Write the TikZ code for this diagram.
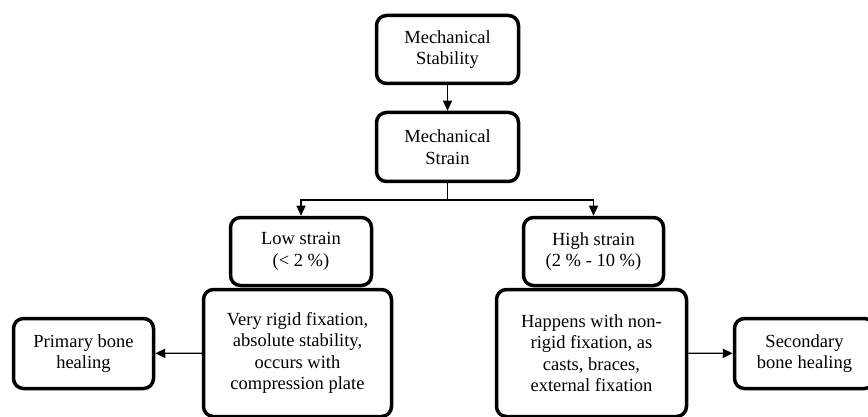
\documentclass[tikz,border=0pt]{standalone}
\usepackage{fontspec}
\setmainfont{Liberation Serif}
\usetikzlibrary{arrows.meta}

\begin{document}
\begin{tikzpicture}[>={Triangle[length=10pt,width=9pt]},x=1pt,y=-1pt,line width=1.2pt,
                    main node/.style={rectangle,draw,line width=3.5pt,rounded corners=10pt,
                      align=center,inner sep=0pt,font=\fontsize{18.5}{21.5}\selectfont}]
  \clip (0,0) rectangle (868,417);

  \node[main node,minimum width=142pt,minimum height=68pt] (stability) at (447.5,49.5) {Mechanical\\Stability};
  \node[main node,minimum width=142pt,minimum height=69pt] (strain) at (447.5,147) {Mechanical\\Strain};
  \node[main node,minimum width=141pt,minimum height=68pt] (low) at (301,251.5) {Low strain\\(< 2 \%)};
  \node[main node,minimum width=140pt,minimum height=68pt] (high) at (593.5,251.5) {High strain\\(2 \% - 10 \%)};
  \node[main node,minimum width=188pt,minimum height=127pt] (lowtext) at (297.5,353) {Very rigid fixation,\\absolute stability,\\occurs with\\compression plate};
  \node[main node,minimum width=190pt,minimum height=127pt] (hightext) at (591.5,353) {Happens with non-\\rigid fixation, as\\casts, braces,\\external fixation};
  \node[main node,minimum width=140pt,minimum height=70pt] (primary) at (83.5,353.5) {Primary bone\\healing};
  \node[main node,minimum width=140pt,minimum height=70pt] (secondary) at (804.5,353.5) {Secondary\\bone healing};

  \coordinate (split) at (447.5,200);

  \draw[->] (stability) -- (strain);
  \draw (strain) -- (split);
  \draw[->] (split) -| (low);
  \draw[->] (split) -| (high);
  \draw[->] (lowtext) -- (primary);
  \draw[->] (hightext) -- (secondary);
\end{tikzpicture}
\end{document}
